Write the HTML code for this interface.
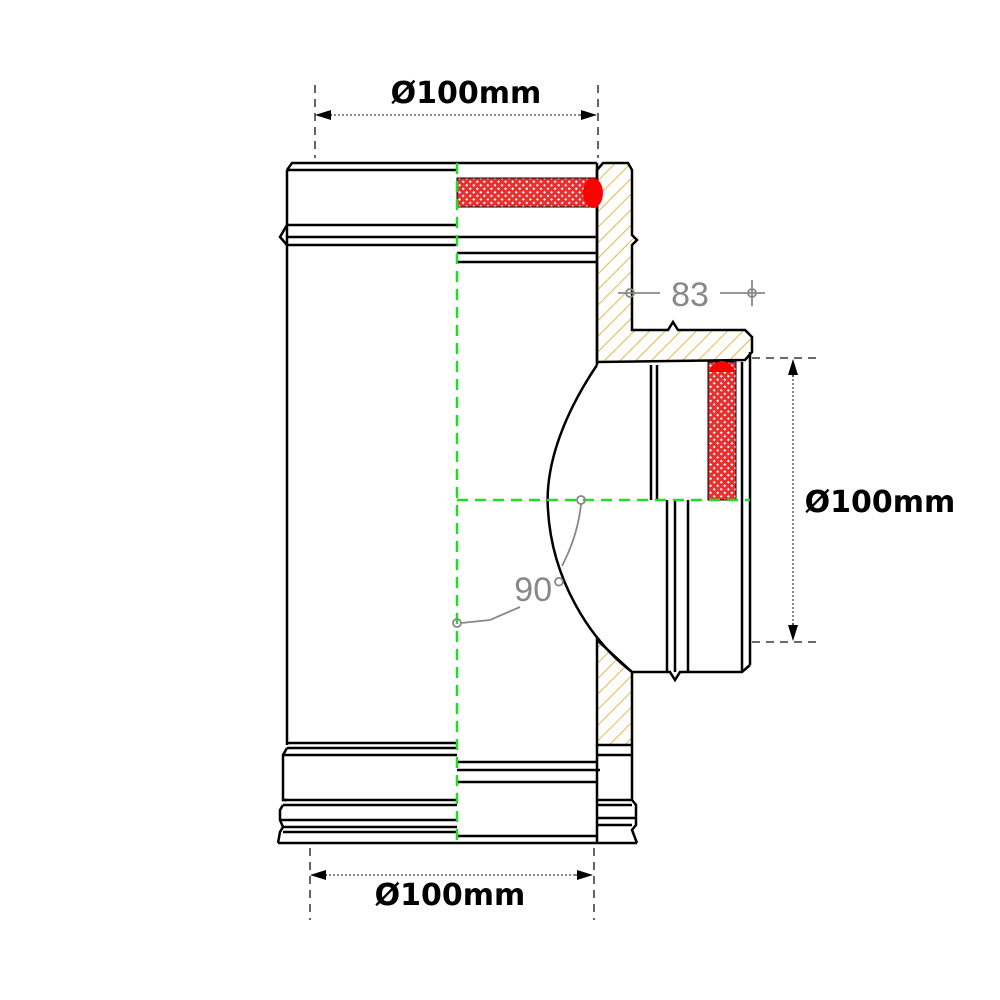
<!DOCTYPE html>
<html><head><meta charset="utf-8"><style>html,body{margin:0;padding:0;background:#fff}svg{display:block}</style></head>
<body>
<svg width="1000" height="1000" viewBox="0 0 1000 1000" xmlns="http://www.w3.org/2000/svg">
<defs>
<pattern id="h" width="11" height="11" patternUnits="userSpaceOnUse" patternTransform="rotate(45)">
<line x1="0" y1="0" x2="0" y2="11" stroke="#e6b84a" stroke-width="2"/></pattern>
<pattern id="x" width="5" height="5" patternUnits="userSpaceOnUse" patternTransform="rotate(45)">
<rect width="5" height="5" fill="#e83030"/><rect x="0" y="0" width="2" height="2" fill="#fff"/></pattern>
<marker id="a" markerWidth="16" markerHeight="10" refX="15" refY="5" orient="auto" markerUnits="userSpaceOnUse"><path d="M0,0 L16,5 L0,10 Z" fill="#000"/></marker>
</defs>
<g fill="none" stroke="#000" stroke-width="2.5">
<path d="M597,170 L603,163 L628,163 L632,170 L632,235 L637,240 L632,245 L632,330 L668,330 L673,322 L678,330 L745,330 L752,337 L752,352 L745,360 L597,362 Z" fill="url(#h)" stroke-width="2.5"/>
<path d="M597,640 L632,672 L632,745 L597,745 Z" fill="url(#h)"/>
<path d="M287,170 L292,163 L597,163"/>
<line x1="287" y1="170" x2="457" y2="170"/>
<line x1="287" y1="225" x2="457" y2="225"/>
<path d="M287,225 L280,237 L287,245"/>
<line x1="287" y1="237" x2="597" y2="237"/>
<line x1="287" y1="245" x2="457" y2="245"/>
<line x1="457" y1="253" x2="597" y2="253"/>
<line x1="457" y1="262" x2="597" y2="262"/>
<line x1="287" y1="170" x2="287" y2="745"/>
<line x1="597" y1="163" x2="597" y2="365"/>
<path d="M597,365 C560,420 545,470 548,510 C552,580 590,640 632,672"/>
<line x1="651" y1="365" x2="651" y2="500"/>
<line x1="657" y1="365" x2="657" y2="500"/>
<line x1="667" y1="500" x2="667" y2="672"/>
<line x1="675" y1="500" x2="675" y2="672"/>
<line x1="688" y1="500" x2="688" y2="672"/>
<line x1="742" y1="362" x2="742" y2="672"/>
<line x1="750" y1="352" x2="750" y2="665"/>
<path d="M632,672 L670,672 L675,680 L680,672 L742,672 L750,665"/>
<line x1="287" y1="743" x2="457" y2="743"/>
<line x1="287" y1="748" x2="457" y2="748"/>
<path d="M287,748 L283,755 L283,800 L287,800"/>
<line x1="283" y1="755" x2="457" y2="755"/>
<line x1="457" y1="762" x2="597" y2="762"/>
<line x1="457" y1="770" x2="600" y2="770"/>
<line x1="457" y1="782" x2="597" y2="782"/>
<line x1="597" y1="745" x2="597" y2="843"/>
<line x1="632" y1="745" x2="632" y2="800"/>
<line x1="597" y1="755" x2="632" y2="755"/>
<line x1="283" y1="800" x2="457" y2="800"/>
<line x1="283" y1="805" x2="457" y2="805"/>
<path d="M283,805 L280,810 L280,820 L283,827 L280,832 L278,843"/>
<line x1="280" y1="820" x2="457" y2="820"/>
<line x1="283" y1="827" x2="457" y2="827"/>
<line x1="283" y1="832" x2="457" y2="832"/>
<line x1="457" y1="836" x2="597" y2="836"/>
<line x1="278" y1="843" x2="637" y2="843"/>
<path d="M597,800 L632,800 L636,805 L636,825 L632,830 L637,843"/>
<line x1="597" y1="805" x2="632" y2="805"/>
<line x1="597" y1="818" x2="636" y2="818"/>
<line x1="597" y1="825" x2="632" y2="825"/>
</g>
<rect x="457" y="178" width="140" height="29" fill="url(#x)" stroke="#000" stroke-width="1"/>
<ellipse cx="593" cy="193" rx="10" ry="15" fill="#f00"/>
<rect x="708" y="362" width="28" height="138" fill="url(#x)" stroke="#000" stroke-width="1"/>
<path d="M708,372 Q722,350 736,372 Z" fill="#f00"/>
<g stroke="#22dd22" stroke-width="2.5" stroke-dasharray="11,7" fill="none">
<line x1="457" y1="163" x2="457" y2="843"/>
<line x1="457" y1="500" x2="750" y2="500"/>
</g>
<g stroke="#555" stroke-width="1.8" stroke-dasharray="8,6" fill="none">
<line x1="315" y1="85" x2="315" y2="158"/>
<line x1="598" y1="85" x2="598" y2="158"/>
<line x1="310" y1="848" x2="310" y2="920"/>
<line x1="594" y1="848" x2="594" y2="920"/>
<line x1="752" y1="358" x2="822" y2="358"/>
<line x1="752" y1="642" x2="822" y2="642"/>
</g>
<g stroke="#666" stroke-width="1.5" stroke-dasharray="2,2" fill="none">
<line x1="330" y1="115" x2="582" y2="115"/>
<line x1="325" y1="875" x2="577" y2="875"/>
<line x1="793" y1="375" x2="793" y2="625"/>
</g>
<g stroke="#000" stroke-width="1" fill="none">
<line x1="580" y1="115" x2="596" y2="115" marker-end="url(#a)"/>
<line x1="332" y1="115" x2="316" y2="115" marker-end="url(#a)"/>
<line x1="575" y1="875" x2="592" y2="875" marker-end="url(#a)"/>
<line x1="327" y1="875" x2="311" y2="875" marker-end="url(#a)"/>
<line x1="793" y1="377" x2="793" y2="360" marker-end="url(#a)"/>
<line x1="793" y1="623" x2="793" y2="640" marker-end="url(#a)"/>
</g>
<g font-family="'DejaVu Sans','Liberation Sans',sans-serif" font-weight="bold" font-size="30" fill="#000">
<text x="466" y="103" text-anchor="middle">Ø100mm</text>
<text x="450" y="905" text-anchor="middle">Ø100mm</text>
<text x="880" y="512" text-anchor="middle">Ø100mm</text>
</g>
<g stroke="#888" stroke-width="1.8" fill="none">
<line x1="618" y1="293" x2="660" y2="293"/>
<line x1="720" y1="293" x2="765" y2="293"/>
<circle cx="630" cy="293" r="4"/><circle cx="752" cy="293" r="4"/>
<line x1="752" y1="280" x2="752" y2="306"/>
<circle cx="581" cy="500" r="4"/><circle cx="457" cy="623" r="4"/>
<path d="M581,504 Q578,535 562,566"/>
<path d="M461,623 L490,620 L520,607"/>
</g>
<g font-family="'Liberation Sans',sans-serif" font-size="34" fill="#888">
<text x="690" y="306" text-anchor="middle">83</text>
<text x="540" y="601" text-anchor="middle">90°</text>
</g>
</svg>
</body></html>
